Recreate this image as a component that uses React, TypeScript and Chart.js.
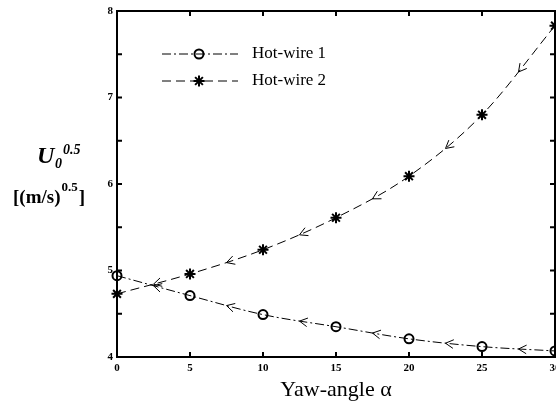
import React, { useEffect, useRef } from 'react';
import { Chart, registerables } from 'chart.js';
import { drawPoint } from 'chart.js/helpers';

Chart.register(...registerables);

// Yaw angle (deg) and sqrt of velocity for the two probes
const yawAngles = [0, 5, 10, 15, 20, 25, 30];
const hotWire1 = [4.94, 4.71, 4.49, 4.35, 4.21, 4.12, 4.07];
const hotWire2 = [4.73, 4.96, 5.24, 5.61, 6.09, 6.8, 7.83];
const seriesNames = ['Hot-wire 1', 'Hot-wire 2'];
const xTickValues = [0, 5, 10, 15, 20, 25, 30];
const yTickValues = [4, 5, 6, 7, 8];
const yMinorValues = [4.5, 5.5, 6.5, 7.5];

const SERIF = '"Liberation Serif", "Times New Roman", serif';

// Box frame with inward tick marks on all four sides
const framePlugin = {
  id: 'boxFrame',
  afterDatasetsDraw(chart: any) {
    const { ctx, chartArea } = chart;
    const { left, right, top, bottom } = chartArea;
    const xs = chart.scales.x;
    const ys = chart.scales.y;
    const len = 5;
    ctx.save();
    ctx.strokeStyle = '#000';
    ctx.lineWidth = 2;
    ctx.setLineDash([]);
    ctx.strokeRect(left, top, right - left, bottom - top);
    ctx.beginPath();
    xTickValues.forEach((v) => {
      const px = xs.getPixelForValue(v);
      ctx.moveTo(px, bottom);
      ctx.lineTo(px, bottom - len);
      ctx.moveTo(px, top);
      ctx.lineTo(px, top + len);
    });
    [...yTickValues, ...yMinorValues].forEach((v) => {
      const py = ys.getPixelForValue(v);
      ctx.moveTo(left, py);
      ctx.lineTo(left + len, py);
      ctx.moveTo(right, py);
      ctx.lineTo(right - len, py);
    });
    ctx.stroke();
    ctx.restore();
  },
};

// Open arrowheads half-way along each segment, pointing toward smaller yaw angle
const arrowPlugin = {
  id: 'midArrows',
  afterDatasetsDraw(chart: any) {
    const ctx = chart.ctx;
    ctx.save();
    ctx.strokeStyle = '#000';
    ctx.lineWidth = 1;
    ctx.setLineDash([]);
    chart.data.datasets.forEach((_ds: any, di: number) => {
      const pts = chart.getDatasetMeta(di).data as any[];
      for (let i = 0; i < pts.length - 1; i++) {
        const a = pts[i];
        const b = pts[i + 1];
        const c1x = a.cp2x ?? a.x;
        const c1y = a.cp2y ?? a.y;
        const c2x = b.cp1x ?? b.x;
        const c2y = b.cp1y ?? b.y;
        const mx = (a.x + 3 * c1x + 3 * c2x + b.x) / 8;
        const my = (a.y + 3 * c1y + 3 * c2y + b.y) / 8;
        const dx = -(b.x + c2x - c1x - a.x);
        const dy = -(b.y + c2y - c1y - a.y);
        const ang = Math.atan2(dy, dx);
        const back = ang + Math.PI;
        const L = 9;
        const spread = 0.5;
        ctx.beginPath();
        ctx.moveTo(mx + L * Math.cos(back + spread), my + L * Math.sin(back + spread));
        ctx.lineTo(mx, my);
        ctx.lineTo(mx + L * Math.cos(back - spread), my + L * Math.sin(back - spread));
        ctx.stroke();
      }
    });
    ctx.restore();
  },
};

// Legend inside the plot: line sample with marker in its middle, then the name
const legendPlugin = {
  id: 'sampleLegend',
  afterDraw(chart: any) {
    const ctx = chart.ctx;
    const { left, top } = chart.chartArea;
    const x0 = left + 45;
    const x1 = left + 121;
    const rowY = [top + 43, top + 70];
    ctx.save();
    chart.data.datasets.forEach((ds: any, i: number) => {
      const y = rowY[i];
      ctx.strokeStyle = '#000';
      ctx.lineWidth = 1;
      ctx.setLineDash(ds.borderDash || []);
      ctx.beginPath();
      ctx.moveTo(x0, y);
      ctx.lineTo(x1, y);
      ctx.stroke();
      ctx.setLineDash([]);
      ctx.fillStyle = 'rgba(0,0,0,0)';
      ctx.lineWidth = ds.pointBorderWidth;
      drawPoint(
        ctx,
        { pointStyle: ds.pointStyle, radius: ds.pointRadius, borderWidth: ds.pointBorderWidth, rotation: 0 },
        x0 + 37,
        y
      );
      ctx.fillStyle = '#000';
      ctx.font = `17px ${SERIF}`;
      ctx.textAlign = 'left';
      ctx.textBaseline = 'middle';
      ctx.fillText(ds.label, x1 + 14, y);
    });
    ctx.restore();
  },
};

// Horizontal y-axis title with sub- and superscripts
const yTitlePlugin = {
  id: 'yTitle',
  afterDraw(chart: any) {
    const ctx = chart.ctx;
    ctx.save();
    ctx.fillStyle = '#000';
    ctx.textAlign = 'left';
    ctx.textBaseline = 'alphabetic';
    ctx.font = `italic bold 24px ${SERIF}`;
    ctx.fillText('U', 37, 163);
    ctx.font = `italic bold 14px ${SERIF}`;
    ctx.fillText('0', 55, 168);
    ctx.fillText('0.5', 63, 154);

    ctx.font = `bold 19px ${SERIF}`;
    ctx.fillText('[(m/s)', 13, 203);
    const w = ctx.measureText('[(m/s)').width;
    ctx.font = `bold 13px ${SERIF}`;
    ctx.fillText('0.5', 13 + w + 1, 191);
    const w2 = ctx.measureText('0.5').width;
    ctx.font = `bold 19px ${SERIF}`;
    ctx.fillText(']', 13 + w + w2 + 2, 203);
    ctx.restore();
  },
};

export default function App() {
  const ref = useRef<HTMLCanvasElement | null>(null);

  useEffect(() => {
    if (!ref.current) return;
    const chart = new Chart(ref.current, {
      type: 'line',
      data: {
        labels: yawAngles,
        datasets: [
          {
            label: seriesNames[0],
            data: yawAngles.map((x, i) => ({ x, y: hotWire1[i] })),
            borderColor: '#000',
            borderWidth: 1,
            borderDash: [9, 3, 2, 3],
            pointStyle: 'circle',
            pointRadius: 4.5,
            pointBorderWidth: 2,
            pointBorderColor: '#000',
            pointBackgroundColor: 'rgba(0,0,0,0)',
            cubicInterpolationMode: 'monotone',
            clip: false as any,
          },
          {
            label: seriesNames[1],
            data: yawAngles.map((x, i) => ({ x, y: hotWire2[i] })),
            borderColor: '#000',
            borderWidth: 1,
            borderDash: [9, 5],
            pointStyle: 'star',
            pointRadius: 5.5,
            pointBorderWidth: 2,
            pointBorderColor: '#000',
            pointBackgroundColor: 'rgba(0,0,0,0)',
            cubicInterpolationMode: 'monotone',
            clip: false as any,
          },
        ],
      },
      options: {
        responsive: false,
        animation: false,
        devicePixelRatio: 1,
        layout: { padding: { left: 0, right: 11, top: 11, bottom: 0 } },
        plugins: {
          legend: { display: false },
          tooltip: { enabled: false },
        },
        scales: {
          x: {
            type: 'linear',
            min: 0,
            max: 30,
            grid: { display: false, drawTicks: false },
            border: { display: false },
            ticks: {
              stepSize: 5,
              padding: 5,
              color: '#000',
              font: { family: SERIF, size: 11, weight: 'bold' },
            },
            title: {
              display: true,
              text: 'Yaw-angle α',
              color: '#000',
              font: { family: SERIF, size: 22 },
              padding: { top: 0, bottom: 4 },
            },
            afterFit: (s: any) => {
              s.height = 50;
            },
          },
          y: {
            type: 'linear',
            min: 4,
            max: 8,
            grid: { display: false, drawTicks: false },
            border: { display: false },
            ticks: {
              stepSize: 1,
              padding: 4,
              color: '#000',
              font: { family: SERIF, size: 11, weight: 'bold' },
            },
            afterFit: (s: any) => {
              s.width = 117;
            },
          },
        },
      },
      plugins: [framePlugin, arrowPlugin, legendPlugin, yTitlePlugin],
    } as any);
    return () => chart.destroy();
  }, []);

  return (
    <div
      style={{
        position: 'fixed',
        left: 0,
        top: 0,
        width: 556,
        height: 407,
        overflow: 'hidden',
        background: '#fff',
      }}
    >
      <canvas ref={ref} width={566} height={407} style={{ display: 'block' }} />
    </div>
  );
}
